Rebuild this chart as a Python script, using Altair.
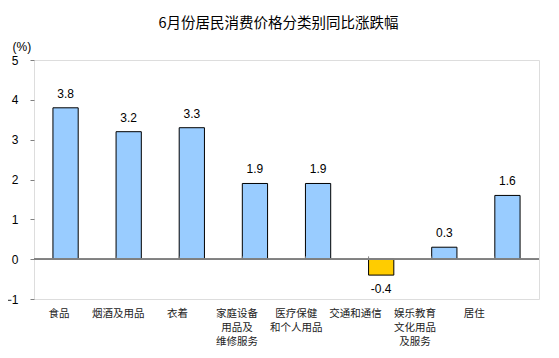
import json
import altair as alt
import pandas as pd

categories = ["食品", "烟酒及用品", "衣着", "家庭设备|用品及|维修服务", "医疗保健|和个人用品",
              "交通和通信", "娱乐教育|文化用品|及服务", "居住"]
values = [3.8, 3.2, 3.3, 1.9, 1.9, -0.4, 0.3, 1.6]
y_ticks = [-1, 0, 1, 2, 3, 4, 5]
title_text = "6月份居民消费价格分类别同比涨跌幅"
y_title = "(%)"

df = pd.DataFrame({"cat": categories, "val": values})
df["lbl"] = df["val"].map(lambda v: f"{v:.1f}")
df["idx"] = range(len(df))

FONT = "Liberation Sans, Arial, Noto Sans CJK SC"
cats_js = json.dumps(categories, ensure_ascii=False)

x_scale = alt.Scale(paddingInner=0.6, paddingOuter=0.3)
x_axis = alt.Axis(
    labelExpr="split(datum.label, '|')", labelAngle=0, ticks=False, domain=False,
    labelFontSize=10.5, labelColor="#222222", labelLineHeight=14, labelPadding=9,
    labelBaseline="top", labelFont=FONT, labelOverlap=False,
    labelOffset={"expr": f"-6.6 - 3.8*indexof({cats_js}, datum.value)"},
)
x_enc = alt.X("cat:N", sort=categories, title=None, scale=x_scale, axis=x_axis)

y_scale = alt.Scale(domain=[-1, 5], nice=False)
y_axis = alt.Axis(
    values=y_ticks, grid=False, domain=False, tickColor="#808080", tickSize=4,
    labelFontSize=12, labelColor="#000000", labelPadding=12, labelFont=FONT,
    labelOverlap=False, labelFlush=False,
    title=y_title, titleAngle=0, titleX=-22, titleY=-10, titleAlign="left",
    titleBaseline="alphabetic", titleFontSize=12, titleFontWeight="normal",
    titleColor="#000000", titleFont=FONT,
)
y_enc = alt.Y("val:Q", scale=y_scale, axis=y_axis)

base = alt.Chart(df)

bars = base.mark_bar(stroke="#000000", strokeWidth=1).encode(
    x=x_enc, y=y_enc,
    color=alt.condition("datum.val < 0", alt.value("#FFCC00"), alt.value("#99CCFF")),
)

pos_text = base.transform_filter("datum.val >= 0").mark_text(
    baseline="bottom", dy=-7, fontSize=12, font=FONT, color="#000000"
).encode(x=x_enc, y=y_enc, text="lbl:N")

neg_text = base.transform_filter("datum.val < 0").mark_text(
    baseline="top", dy=9, fontSize=12, font=FONT, color="#000000"
).encode(x=x_enc, y=y_enc, text="lbl:N")

zero_line = base.mark_rule(color="#808080", strokeWidth=1).encode(
    y=alt.Y(datum=0, scale=y_scale, axis=y_axis)
)

boundary_ticks = base.transform_filter("datum.idx > 0").mark_rule(
    color="#808080", strokeWidth=1
).encode(
    x=alt.X("cat:N", sort=categories, bandPosition=0, axis=x_axis,
            scale=x_scale, title=None),
    y=alt.Y(datum=0, scale=y_scale, axis=y_axis), y2=alt.Y2(datum=0.07),
)

chart = alt.layer(bars, zero_line, boundary_ticks, pos_text, neg_text).properties(
    width=505, height=239,
    autosize=alt.AutoSizeParams(type="none"),
    padding={"left": 26, "top": 52, "right": 10, "bottom": 50},
    title=alt.TitleParams(
        title_text, fontSize=14.5, font="Noto Sans CJK SC", fontWeight="normal",
        color="#000000", offset=-2, baseline="alphabetic", dx=-8, anchor="middle",
        frame="group",
    ),
).configure_view(stroke="#808080", strokeWidth=1).configure(background="#ffffff")

chart.save("out.html", embed_options={"renderer": "svg", "actions": False})
